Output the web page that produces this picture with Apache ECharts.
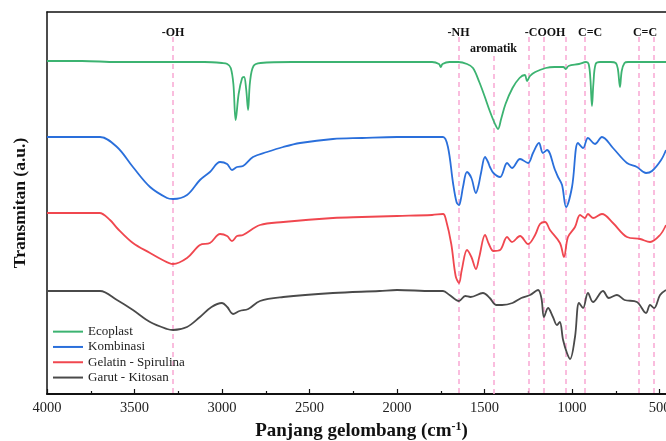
<!DOCTYPE html>
<html>
<head>
<meta charset="utf-8">
<title>FTIR</title>
<script src="https://cdn.jsdelivr.net/npm/echarts@6/dist/echarts.min.js"></script>
<style>
    html, body { margin: 0; padding: 0; background: #fff; }
    #container { width: 666px; height: 441px; }
</style>
</head>
<body>
<div id="container"></div>
<script>
    // spektrum FTIR: [bilangan gelombang, transmitan (a.u.)]
    var ecoplast = [
        [4000, 333], [3800, 333], [3600, 332], [3400, 332], [3200, 332], [3100, 332], [3000, 331],
        [2970, 330], [2950, 326], [2935, 310], [2922, 274], [2905, 300], [2885, 316], [2874, 317],
        [2862, 305], [2851, 284], [2840, 312], [2820, 328], [2780, 331], [2600, 332], [2400, 332],
        [2200, 332], [2000, 332], [1800, 332], [1760, 330], [1750, 327], [1740, 330], [1700, 332],
        [1650, 332], [1600, 330], [1566, 326], [1530, 312], [1500, 298], [1470, 283], [1440, 270],
        [1423, 265], [1405, 275], [1380, 290], [1340, 306], [1300, 316], [1270, 319], [1257, 313],
        [1240, 318], [1210, 322], [1150, 326], [1100, 327], [1050, 327], [1035, 325], [1020, 328],
        [960, 330], [920, 332], [905, 330], [895, 315], [886, 288], [878, 310], [865, 330], [840, 332],
        [780, 332], [750, 331], [738, 325], [726, 307], [716, 323], [700, 331], [680, 332], [600, 332],
        [500, 332], [463, 332]
    ];
    var kombinasi = [
        [4000, 257], [3800, 257], [3697, 257], [3600, 247], [3509, 227], [3411, 207], [3314, 196],
        [3280, 195], [3200, 199], [3126, 214], [3069, 222], [3011, 232], [2971, 230], [2943, 224],
        [2914, 227], [2880, 228], [2823, 237], [2743, 242], [2651, 247], [2554, 251], [2366, 255],
        [2200, 256], [2000, 257], [1800, 257], [1737, 257], [1709, 247], [1680, 211], [1660, 192],
        [1646, 189], [1635, 195], [1623, 207], [1600, 222], [1575, 216], [1549, 201], [1535, 208],
        [1520, 221], [1497, 237], [1480, 232], [1469, 227], [1449, 221], [1411, 217], [1371, 231],
        [1343, 226], [1297, 235], [1251, 231], [1223, 241], [1189, 251], [1166, 241],
        [1143, 244], [1097, 224], [1080, 217], [1057, 209], [1034, 187], [1000, 207], [966, 251],
        [937, 246], [909, 256], [869, 250], [829, 257], [766, 246], [686, 231],
        [629, 227], [577, 221], [543, 223], [491, 234], [463, 244]
    ];
    var gelatinSpirulina = [
        [4000, 181], [3800, 181], [3700, 181], [3640, 174], [3600, 166], [3509, 151], [3411, 141],
        [3350, 135], [3280, 130], [3200, 136], [3126, 149], [3069, 151], [3011, 160], [2971, 158],
        [2943, 153], [2914, 158], [2880, 159], [2783, 169], [2650, 172], [2366, 176], [2200, 177],
        [2000, 178], [1800, 179], [1737, 180], [1720, 174], [1690, 150], [1665, 118], [1646, 111],
        [1630, 124], [1600, 144], [1575, 137], [1549, 125], [1530, 137], [1497, 159], [1475, 150],
        [1449, 143], [1411, 144], [1371, 157], [1343, 152], [1297, 158], [1251, 150], [1211, 159],
        [1183, 170], [1154, 172], [1126, 164], [1069, 151], [1046, 137], [1023, 157], [983, 167],
        [954, 179], [926, 176], [909, 180], [880, 176], [829, 180], [766, 171], [686, 157],
        [611, 155], [554, 152], [497, 159], [463, 169]
    ];
    var garutKitosan = [
        [4000, 103], [3800, 103], [3697, 103], [3600, 94], [3509, 84], [3411, 72], [3314, 65],
        [3280, 64], [3200, 67], [3126, 77], [3060, 87], [3000, 91], [2970, 87], [2937, 80], [2900, 83],
        [2850, 85], [2783, 93], [2650, 97], [2366, 101], [2100, 103], [2000, 104], [1800, 103],
        [1737, 103], [1700, 99], [1646, 93], [1610, 98], [1580, 97], [1509, 101], [1470, 96],
        [1434, 89], [1400, 89], [1340, 91], [1290, 96], [1240, 99], [1194, 104], [1175, 96],
        [1160, 77], [1137, 86], [1109, 77], [1086, 69], [1070, 72], [1051, 54], [1029, 41], [1011, 35],
        [983, 57], [960, 91], [937, 86], [909, 101], [880, 92], [823, 103], [790, 96], [743, 99],
        [700, 94], [629, 92], [577, 81], [554, 89], [531, 86], [497, 99], [463, 104]
    ];

    // garis gugus fungsi (putus-putus) dan labelnya
    var bandLines = [3280, 1648, 1449, 1246, 1162, 1036, 926, 619, 531];
    var bandLineTops = [357, 357, 338, 357, 357, 357, 357, 357, 357];
    var bandLabels = ['-OH', '-NH', 'aromatik', '-COOH', 'C=C', 'C=C'];
    var bandLabelX = [3280, 1648, 1449, 1154, 897, 583];
    var bandLabelY = [361, 361, 345, 361, 361, 361];

    var majorTicks = [4000, 3500, 3000, 2500, 2000, 1500, 1000, 500];
    var minorTicks = [3750, 3250, 2750, 2250, 1750, 1250, 750];

    var serif = '"Liberation Serif", "DejaVu Serif", serif';

    var myChart = echarts.init(document.getElementById('container'));

    var markLines = bandLines.map(function (x, i) {
        return [{coord: [x, bandLineTops[i]]}, {coord: [x, 0]}];
    });
    var markPoints = bandLabels.map(function (t, i) {
        return {name: t, coord: [bandLabelX[i], bandLabelY[i]]};
    });

    function spectrum(name, data, color) {
        return {
            name: name,
            type: 'line',
            xAxisIndex: 0,
            data: data,
            symbol: 'none',
            smooth: 0.35,
            color: color,
            lineStyle: {width: 1.8, color: color},
            z: 3
        };
    }

    var series = [
        spectrum('Ecoplast', ecoplast, '#3cb371'),
        spectrum('Kombinasi', kombinasi, '#2a6fdb'),
        spectrum('Gelatin - Spirulina', gelatinSpirulina, '#f0474f'),
        spectrum('Garut - Kitosan', garutKitosan, '#4a4a4a')
    ];
    series[0].markLine = {
        silent: true,
        symbol: 'none',
        animation: false,
        label: {show: false},
        lineStyle: {color: '#f9a8d4', type: [5, 4], width: 1.5},
        data: markLines,
        z: 1
    };
    series[0].markPoint = {
        silent: true,
        symbol: 'circle',
        symbolSize: 0,
        animation: false,
        label: {
            show: true,
            position: 'inside',
            formatter: '{b}',
            fontFamily: serif,
            fontWeight: 'bold',
            fontSize: 12,
            color: '#111'
        },
        data: markPoints
    };

    var option = {
        animation: false,
        grid: {left: 47, right: 0, top: 12, bottom: 47, containLabel: false, outerBoundsMode: 'none'},
        legend: {
            orient: 'vertical',
            left: 48,
            top: 319,
            icon: 'rect',
            itemWidth: 30,
            itemHeight: 2,
            itemGap: 0,
            textStyle: {fontFamily: serif, fontSize: 13, color: '#222', lineHeight: 15.3}
        },
        xAxis: [{
            type: 'value',
            min: 463,
            max: 4000,
            inverse: true,
            position: 'bottom',
            name: 'Panjang gelombang (cm{sup|-1})',
            nameLocation: 'middle',
            nameGap: 25,
            nameTextStyle: {
                fontFamily: serif, fontWeight: 'bold', fontSize: 19, color: '#111', padding: [0, 0, 0, 10],
                rich: {sup: {fontFamily: serif, fontWeight: 'bold', fontSize: 12, verticalAlign: 'top', padding: [0, 0, 9, 0]}}
            },
            splitLine: {show: false},
            axisLine: {onZero: false, lineStyle: {color: '#111', width: 2}},
            axisTick: {inside: true, length: 5, customValues: majorTicks, lineStyle: {color: '#111', width: 1.2}},
            axisLabel: {
                customValues: majorTicks, fontFamily: serif, fontSize: 14.5, color: '#222', margin: 7,
                formatter: function (v) { return String(v); }
            }
        }, {
            type: 'value',
            min: 463,
            max: 4000,
            inverse: true,
            position: 'bottom',
            splitLine: {show: false},
            axisLine: {show: false},
            axisTick: {inside: true, length: 3, customValues: minorTicks, lineStyle: {color: '#111', width: 1.2}},
            axisLabel: {show: false}
        }, {
            type: 'value',
            min: 463,
            max: 4000,
            inverse: true,
            position: 'top',
            splitLine: {show: false},
            axisLine: {show: true, lineStyle: {color: '#111', width: 1.5}},
            axisTick: {show: false},
            axisLabel: {show: false}
        }],
        yAxis: {
            type: 'value',
            min: 0,
            max: 382,
            name: 'Transmitan (a.u.)',
            nameLocation: 'middle',
            nameGap: 18,
            nameTextStyle: {fontFamily: serif, fontWeight: 'bold', fontSize: 17.5, color: '#111'},
            splitLine: {show: false},
            axisLine: {show: true, lineStyle: {color: '#111', width: 1.5}},
            axisTick: {show: false},
            axisLabel: {show: false}
        },
        series: series
    };

    myChart.setOption(option);
</script>
</body>
</html>
